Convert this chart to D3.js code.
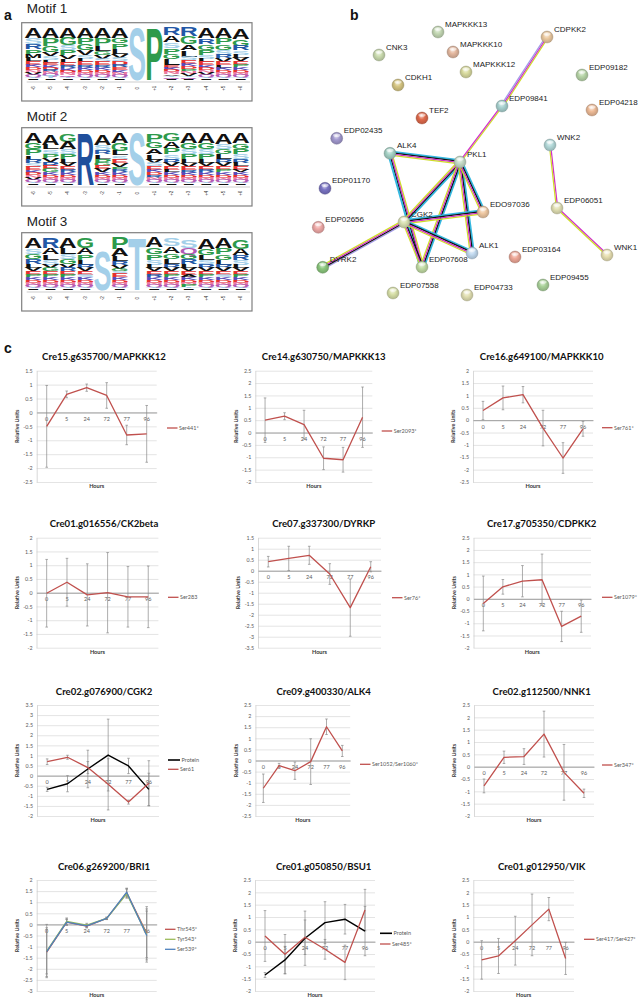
<!DOCTYPE html>
<html><head><meta charset="utf-8">
<script src="https://cdn.jsdelivr.net/npm/d3@7"></script>
<style>body{margin:0;background:#fff}svg{display:block}</style>
</head><body><svg id="fig" width="638" height="997"></svg>
<script>
// ---------------- DATA ----------------
// Panel a: sequence logos (letters top->bottom, frequency %)
const motifPositions = ["-6","-5","-4","-3","-2","-1","0","+1","+2","+3","+4","+5","+6"];
const motif1 = [
 "A20 S12 R10 P10 M7 L6 E6 K5 D5 N5 V4 Q4 T3 I3",
 "A20 P15 G12 V8 S7 L5 E5 K5 D4 R4 N4 Q4 T4 I3",
 "A20 G14 S9 P10 V8 L6 E6 R5 K5 D4 N4 Q3 T3 I3",
 "A20 P12 G12 V9 S7 L6 E6 R5 K5 D4 N4 Q4 T3 I3",
 "A20 P16 L10 G7 V7 S6 E6 R5 K5 D4 N4 Q4 T3 I3",
 "A20 G11 P11 L9 V7 S7 D6 R5 E5 K5 N4 Q4 T3 I3",
 "S100",
 "P100",
 "R16 A13 S11 P11 G9 L12 E5 K4 D4 N4 V3 T3 Q3 I2",
 "R17 G15 A11 L13 S7 E6 K5 D5 P5 N4 V4 T3 Q3 I2",
 "A20 R11 G11 P9 S8 L6 E6 K5 D5 N4 V4 Q4 T3 I3",
 "A20 P13 G10 S9 R7 V7 E6 L5 K5 D4 N4 Q4 T3 I3",
 "A20 G13 R9 S8 L7 V6 E6 P5 K5 D5 N4 Q4 T3 I3"];
const motif2 = [
 "A20 G12 P12 L8 R7 S7 E6 K5 D5 N4 V4 Q4 T3 I3",
 "A20 L9 S8 P8 V8 R7 E6 G6 K5 D5 N4 Q4 T3 I3",
 "G16 A14 S9 P9 L7 V7 E6 R5 K5 D5 N4 Q4 T3 I3",
 "R100",
 "A20 S9 R8 L8 P8 G6 E6 V6 K5 D5 N4 Q4 T3 I3",
 "A20 G14 L9 S8 E7 V7 P5 R5 K5 D5 N4 Q4 T3 I3",
 "S100",
 "P16 G13 A11 L10 V7 S6 E6 K5 D5 R5 N4 Q4 T3 I3",
 "G14 A13 P12 S10 R7 V6 E6 L5 K5 D5 N4 Q4 T3 I3",
 "A20 G12 S10 P9 L8 V7 E6 R5 K5 D4 N4 Q4 T3 I3",
 "A20 G13 S9 P9 L8 V6 E6 R5 K5 D5 N4 Q4 T3 I3",
 "A20 S10 G10 L9 R8 V6 E6 P5 K5 D5 N4 Q4 T3 I3",
 "A20 G11 P10 S9 R8 L6 E6 V5 K5 D5 N4 Q4 T3 I3"];
const motif3 = [
 "A20 S11 G10 R9 L8 V6 E6 P5 K5 D5 N4 Q4 T3 I3",
 "R20 A12 L10 S9 V7 G6 E6 P5 K5 D5 N4 Q4 T3 I3",
 "A20 L12 S9 G9 V8 R6 E6 P5 K5 D5 N4 Q4 T3 I3",
 "G19 A13 P10 L9 R7 V6 E6 S5 K5 D5 N4 Q4 T3 I3",
 "S75",
 "P22 A14 L9 R8 V7 G5 S5 E6 K5 D5 N4 Q4 T3 I3",
 "T100",
 "A20 G13 P11 S9 L7 V6 E6 R5 K5 D5 N4 Q4 T3 I3",
 "S14 A13 G11 L9 R8 V7 E6 P5 K5 D5 N4 Q4 T3 I3",
 "S14 Q12 G10 R9 L8 V6 E6 A5 K5 D5 N4 P4 T3 I3",
 "A20 G12 L9 S8 R8 V6 E6 P5 K5 D5 N4 Q4 T3 I3",
 "A20 P12 G11 L9 R7 V6 E6 S5 K5 D5 N4 Q4 T3 I3",
 "G17 A12 R9 S9 L7 V6 E6 P5 K5 D5 N4 Q4 T3 I3"];
const motifNames = ["Motif 1","Motif 2","Motif 3"];

// Panel b: network
const nodeNames = ["MAPKKK13","MAPKKK10","CNK3","MAPKKK12","CDKH1","CDPKK2","EDP09182","EDP09841","EDP04218","TEF2","EDP02435","ALK4","PKL1","WNK2","EDP01170","EDP02656","DYRK2","CGK2","EDO97036","EDP06051","ALK1","EDP07608","EDP03164","WNK1","EDP09455","EDP07558","EDP04733"];
const edges = [
 ["CDPKK2","EDP09841","tex exp hom"],
 ["EDP09841","PKL1","tex exp"],
 ["ALK4","PKL1","db coex exp tex"],
 ["ALK4","EDP07608","tex exp coex db"],
 ["PKL1","CGK2","db coex exp tex"],
 ["PKL1","EDP07608","db coex exp tex"],
 ["PKL1","ALK1","db coex exp tex"],
 ["PKL1","EDO97036","db coex exp tex"],
 ["CGK2","EDO97036","db coex exp tex"],
 ["CGK2","ALK1","db coex exp tex"],
 ["CGK2","EDP07608","coex exp tex"],
 ["CGK2","DYRK2","hom coex exp tex"],
 ["WNK2","EDP06051","exp tex"],
 ["EDP06051","WNK1","exp tex"]];

// Panel c: time-course line charts
const hours = ["0","5","24","72","77","96"];
const chartTitles = ["Cre15.g635700/MAPKKK12","Cre14.g630750/MAPKKK13","Cre16.g649100/MAPKKK10",
 "Cre01.g016556/CK2beta","Cre07.g337300/DYRKP","Cre17.g705350/CDPKK2",
 "Cre02.g076900/CGK2","Cre09.g400330/ALK4","Cre02.g112500/NNK1",
 "Cre06.g269200/BRI1","Cre01.g050850/BSU1","Cre01.g012950/VIK"];
const yDomains = [[-2.5,1.5],[-2,2.5],[-2.5,2],[-2,2],[-3.5,1.5],[-2,2.5],[-2,3.5],[-2.5,2.5],[-2,2.5],[-3,2],[-2,2.5],[-2,2.5]];
const seriesNames = [["Ser441*"],["Ser2093*"],["Ser761*"],["Ser283"],["Ser76*"],["Ser1079*"],
 ["Protein","Ser61"],["Ser1052/Ser1060*"],["Ser347*"],["Thr545*","Tyr543*","Ser539*"],["Protein","Ser485*"],["Ser417/Ser427*"]];
const seriesValues = [
 [[-0.5,0.65,0.89,0.61,-0.81,-0.77]],
 [[0.5,0.66,0.32,-1.04,-1.1,0.62]],
 [[0.39,0.9,1.03,-0.32,-1.53,-0.35]],
 [[-0.02,0.38,-0.08,0.0,-0.15,-0.15]],
 [[0.41,0.56,0.7,-0.15,-1.68,0.18]],
 [[-0.19,0.49,0.72,0.78,-1.13,-0.71]],
 [[-0.68,-0.4,0.33,1.02,0.48,-0.68],[0.69,0.91,0.4,-0.43,-1.31,-0.38]],
 [[-1.25,-0.23,-0.46,-0.05,1.52,0.43]],
 [[-0.78,0.38,0.41,1.32,-0.23,-1.08]],
 [[-1.25,0.1,-0.08,0.27,1.42,-0.4],[-1.2,0.14,-0.03,0.27,1.38,-0.45],[-1.23,0.1,-0.07,0.27,1.45,-0.5]],
 [[-1.35,-0.74,0.14,0.77,0.91,0.43],[0.23,-0.51,0.18,-0.31,-0.84,1.28]],
 [[-0.74,-0.58,0.04,0.68,1.32,-0.68]]];
const seriesErrors = [
 [[1.47,0.12,0.13,0.46,0.35,1.02]],
 [[0.9,0.14,0.58,0.46,0.5,1.22]],
 [[0.37,0.48,0.33,0.72,0.62,0.3]],
 [[1.23,0.87,1.13,1.46,1.1,1.12]],
 [[0.24,0.55,0.41,0.47,1.3,0.23]],
 [[1.12,0.3,0.64,1.05,0.62,0.66]],
 [[0.1,0.4,0.93,1.78,0.38,0.8],[0.14,0.1,0.3,1.27,0.1,1.12]],
 [[0.64,0.1,0.39,1.03,0.35,0.25]],
 [[0.28,0.25,0.32,0.93,1.13,0.17]],
 [[1.1,0.15,0.08,0.05,0.2,1.1],[1.2,0.15,0.08,0.05,0.2,1.25],[1.0,0.12,0.07,0.05,0.18,1.1]],
 [[0.1,0.55,1.1,0.85,0.6,1.0],[1.03,0.8,0.7,0.4,0.7,0.84]],
 [[0.78,0.71,0.99,1.25,0.47,0.65]]];

// ---------------- STYLE / LAYOUT ----------------
const letterColor = {A:"#111",L:"#111",V:"#111",M:"#111",I:"#111",F:"#111",W:"#111",
  G:"#2d9a4b",P:"#2d9a4b",C:"#2d9a4b",Y:"#2d9a4b",S:"#a3cfe9",T:"#a3cfe9",
  R:"#2257a6",H:"#2257a6",K:"#5a4ab8",D:"#e5302f",E:"#e5302f",N:"#ea7aa0",Q:"#b25ab5"};
const nodeColors = ["#c5d9b5","#e5b9a0","#cbdcb0","#dadca0","#d6c682","#eccaa0","#b8d6a8","#a8d2d0","#efbc98","#e06a4c","#a39ad0","#a6d2c6","#c6dcc8","#b4dada","#7a74c4","#f0aaa8","#8cc87e","#dae2b4","#efc8a2","#e2e0b4","#c2daf0","#c2dca4","#efa898","#e8e0b2","#aad29a","#d8e0a8","#e2e0b2"];
const nodeXY = [[438,32],[453,52],[379,55],[466,72],[398,85],[547,37],[582,75],[502,106],[592,110],[422,118],[336.7,138.3],[390,153.3],[460,162],[550,145],[325,188.3],[318.3,227.3],[322.7,267.3],[404,222],[483,212],[557,208],[472,253],[422,267],[515,257],[607,255],[543,285],[393,293],[467,295]];
const edgeColor = {db:"#35b8e0",coex:"#111",exp:"#d22ccc",tex:"#cfdc2a",hom:"#a49ce6"};

const rowTop = [370.7, 537.7, 705, 880];
const rowBot = [482, 647.7, 816, 991];
const colTitleX = [104, 323.7, 541.7];
const plotX = [[36.7,156.7],[255.3,372.3],[473,593],[36.5,158.4],[258,381],[473.5,591],[37,159],[255.4,350.2],[474,594],[36.7,156.7],[255,375],[473.3,574]];
const legendPos = [[167,428],[381.7,431],[602,427.7],[168,597.3],[392,597.7],[602,597.3],[168,760],[360,764.3],[602,765],[165,929.3],[380,933.3],[584,939.3]];

const svg = d3.select("#fig");
svg.append("rect").attr("width",638).attr("height",997).attr("fill","#fff");
const SANS = "'Liberation Sans', Arial, sans-serif";
const CAL = "Lato, 'Open Sans', sans-serif";

// panel labels
[["a",4,20],["b",350,20],["c",4,353]].forEach(([t,x,y])=>{
  svg.append("text").attr("x",x).attr("y",y).attr("font-family",SANS).attr("font-weight","bold").attr("font-size",14).attr("fill","#111").text(t);
});

// ---------------- PANEL A ----------------
const boxTops = [22.7,127.7,232.7];
const motifs = [motif1,motif2,motif3];
const posX = d3.scalePoint().domain(motifPositions).range([33.3,240.7]);
const freqH = d3.scaleLinear().domain([0,100]).range([0,53]);
function drawLetter(g,ch,cx,yTop,w,h,color){
  if(h<0.35) return;
  const t = g.append("text").attr("font-family",SANS).attr("font-weight","bold").attr("font-size",100)
    .attr("text-anchor","middle").attr("fill",color).text(ch);
  const adv = t.node().getComputedTextLength();
  t.attr("transform",`translate(${cx},${yTop+h}) scale(${w/(adv*0.9)},${h/72})`);
}
motifs.forEach((m,mi)=>{
  const top = boxTops[mi];
  const g = svg.append("g");
  svg.append("text").attr("x",26.7).attr("y",[13,121.4,226.4][mi]).attr("font-family",SANS).attr("font-size",13.5).attr("fill","#222").text(motifNames[mi]);
  g.append("rect").attr("x",21.7).attr("y",top).attr("width",230.3).attr("height",78.3).attr("fill","#fff").attr("stroke","#7f7f7f").attr("stroke-width",1.2);
  const bottom = top+57.3;
  m.forEach((col,ci)=>{
    const items = col.split(" ").map(s=>({l:s[0],v:+s.slice(1)}));
    const total = d3.sum(items,d=>d.v);
    let y = bottom - freqH(total);
    items.forEach(it=>{
      const h = freqH(it.v);
      let c = letterColor[it.l]||"#333";
      if(mi===1 && it.l==="R" && it.v===100) c="#1f4f9c";
      drawLetter(g,it.l,posX(motifPositions[ci]),y,16.2,h,c);
      y += h;
    });
  });
  g.append("line").attr("x1",26.7).attr("x2",250).attr("y1",top+59.3).attr("y2",top+59.3).attr("stroke","#999").attr("stroke-width",0.5);
  g.selectAll(".pl").data(motifPositions).join("text")
    .attr("transform",d=>`translate(${posX(d)},${top+65.6}) rotate(-90)`)
    .attr("text-anchor","middle").attr("dy","0.35em").attr("font-family",SANS).attr("font-size",4.5).attr("fill","#333").text(d=>d);
});

// ---------------- PANEL B ----------------
const defs = svg.append("defs");
nodeColors.forEach((c,i)=>{
  const gr = defs.append("radialGradient").attr("id","ng"+i).attr("cx","50%").attr("cy","55%").attr("r","55%").attr("fx","45%").attr("fy","25%");
  gr.append("stop").attr("offset","0%").attr("stop-color",d3.interpolateRgb(c,"#fff")(0.85));
  gr.append("stop").attr("offset","45%").attr("stop-color",c);
  gr.append("stop").attr("offset","100%").attr("stop-color",d3.color(c).darker(0.7));
});
const nodeIndex = new Map(nodeNames.map((n,i)=>[n,i]));
const eg = svg.append("g");
edges.forEach(([a,b,types])=>{
  const [x1,y1] = nodeXY[nodeIndex.get(a)], [x2,y2] = nodeXY[nodeIndex.get(b)];
  const len = Math.hypot(x2-x1,y2-y1), px = -(y2-y1)/len, py = (x2-x1)/len;
  const ts = types.split(" ");
  const sp = 1.25;
  ts.forEach((t,j)=>{
    const o = (j-(ts.length-1)/2)*sp;
    eg.append("line").attr("x1",x1+px*o).attr("y1",y1+py*o).attr("x2",x2+px*o).attr("y2",y2+py*o)
      .attr("stroke",edgeColor[t]).attr("stroke-width",t==="db"?2.0:1.25).attr("stroke-linecap","round");
  });
});
const ng = svg.append("g");
nodeNames.forEach((n,i)=>{
  const [x,y] = nodeXY[i];
  ng.append("circle").attr("cx",x).attr("cy",y).attr("r",6).attr("fill",`url(#ng${i})`).attr("stroke",d3.color(nodeColors[i]).darker(1)).attr("stroke-width",0.4);
  ng.append("ellipse").attr("cx",x).attr("cy",y-3).attr("rx",3.6).attr("ry",1.8).attr("fill","#fff").attr("opacity",0.55);
  ng.append("text").attr("x",x+7).attr("y",y-5).attr("font-family",SANS).attr("font-size",8).attr("fill","#222").text(n);
});

// ---------------- PANEL C ----------------
const fmt = d => String(Math.round(d*10)/10);
function seriesColor(ci,si,name){
  if(name==="Protein") return "#000";
  if(ci===9) return ["#c0504d","#9bbb59","#4f81bd"][si];
  return "#c0504d";
}
chartTitles.forEach((title,ci)=>{
  const row = Math.floor(ci/3), col = ci%3;
  const [x0,x1] = plotX[ci], top = rowTop[row], bot = rowBot[row];
  const x = d3.scaleBand().domain(hours).range([x0,x1]);
  const xc = d => x(d)+x.bandwidth()/2;
  const y = d3.scaleLinear().domain(yDomains[ci]).range([bot,top]);
  const ticks = d3.range(yDomains[ci][0], yDomains[ci][1]+1e-6, 0.5);
  const g = svg.append("g");
  // gridlines
  const grid = g.append("g").attr("transform",`translate(${x0},0)`).call(d3.axisLeft(y).tickValues(ticks).tickSize(-(x1-x0)).tickFormat(""));
  grid.select(".domain").remove();
  grid.selectAll("line").attr("stroke","#d9d9d9").attr("stroke-width",0.7);
  // y axis
  const ya = g.append("g").attr("transform",`translate(${x0},0)`).call(d3.axisLeft(y).tickValues(ticks).tickSize(0).tickPadding(4).tickFormat(fmt));
  ya.select(".domain").attr("stroke","#c8c8c8").attr("stroke-width",0.7);
  ya.selectAll("text").attr("font-size",5.3).attr("font-family",CAL).attr("fill","#595959");
  // category axis at zero
  const xa = g.append("g").attr("transform",`translate(0,${y(0)})`).call(d3.axisBottom(x).tickSize(0).tickSizeOuter(0).tickPadding(4.5));
  xa.select(".domain").attr("stroke","#8c8c8c").attr("stroke-width",0.8);
  xa.selectAll("text").attr("font-size",5.5).attr("font-family",CAL).attr("fill","#595959");
  // title
  g.append("text").attr("x",colTitleX[col]).attr("y",top-10.5).attr("text-anchor","middle")
    .attr("font-family",CAL).attr("font-weight","bold").attr("font-size",9.6).attr("fill","#111").text(title);
  // axis titles
  g.append("text").attr("transform",`translate(${x0-19.5},${(top+bot)/2}) rotate(-90)`).attr("text-anchor","middle").attr("dy","0.35em")
    .attr("font-family",CAL).attr("font-weight","bold").attr("font-size",5.4).attr("fill","#333").text("Relative Units");
  g.append("text").attr("x",(x0+x1)/2).attr("y",bot+4.5).attr("text-anchor","middle").attr("dy","0.35em")
    .attr("font-family",CAL).attr("font-weight","bold").attr("font-size",5.6).attr("fill","#333").text("Hours");
  // error bars
  seriesValues[ci].forEach((vals,si)=>{
    const errs = seriesErrors[ci][si];
    const eb = g.append("g").attr("stroke","#8a8a8a").attr("stroke-width",0.7);
    vals.forEach((v,k)=>{
      const cx = xc(hours[k]), ya1 = y(v+errs[k]), ya2 = y(v-errs[k]);
      eb.append("line").attr("x1",cx).attr("x2",cx).attr("y1",ya1).attr("y2",ya2);
      eb.append("line").attr("x1",cx-1.3).attr("x2",cx+1.3).attr("y1",ya1).attr("y2",ya1);
      eb.append("line").attr("x1",cx-1.3).attr("x2",cx+1.3).attr("y1",ya2).attr("y2",ya2);
    });
  });
  // lines
  const line = d3.line().x((d,k)=>xc(hours[k])).y(d=>y(d));
  seriesValues[ci].forEach((vals,si)=>{
    const name = seriesNames[ci][si];
    g.append("path").attr("d",line(vals)).attr("fill","none").attr("stroke",seriesColor(ci,si,name))
      .attr("stroke-width",name==="Protein"?1.4:1.3).attr("stroke-linejoin","round");
  });
  // legend
  const [lx,ly] = legendPos[ci];
  const step = ci===6 ? 9.3 : (ci===10 ? 10.7 : 10);
  seriesNames[ci].forEach((name,si)=>{
    const yy = ly + si*step;
    const len = name==="Protein" ? 12 : 10.5;
    g.append("line").attr("x1",lx).attr("x2",lx+len).attr("y1",yy).attr("y2",yy)
      .attr("stroke",seriesColor(ci,si,name)).attr("stroke-width",name==="Protein"?1.6:1.3);
    g.append("text").attr("x",lx+len+1.5).attr("y",yy).attr("dy","0.35em").attr("font-family",CAL)
      .attr("font-size",5.5).attr("fill","#595959").text(name);
  });
});
</script></body></html>
